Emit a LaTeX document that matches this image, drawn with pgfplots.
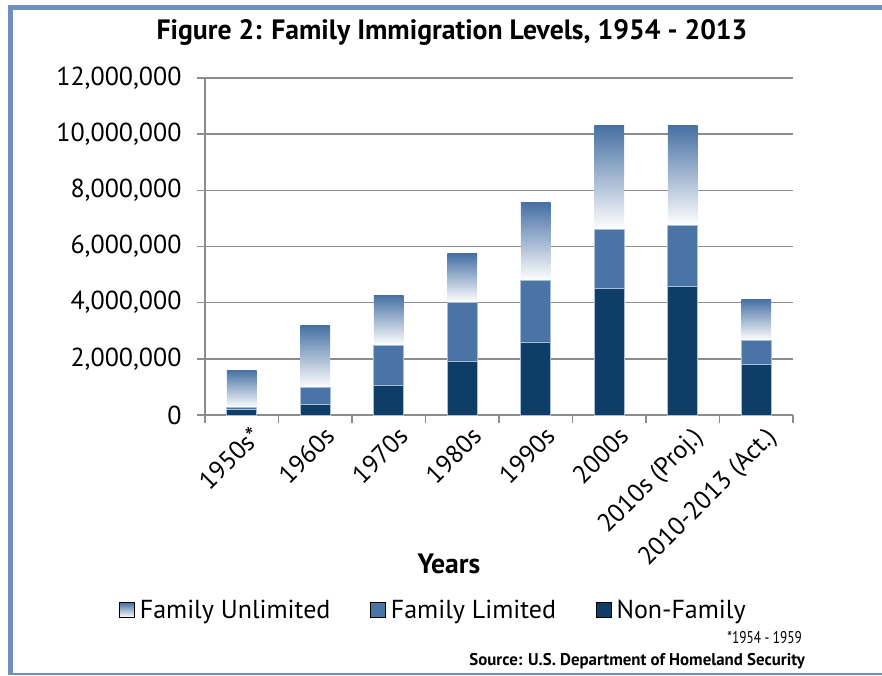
\documentclass[border=0pt]{standalone}
\usepackage{fontspec}
\setmainfont{PT Sans}
\newfontfamily\condfont{PT Sans}[FakeStretch=0.78]
\newfontfamily\titlefont{PT Sans}[FakeStretch=0.99]
\usepackage{pgfplots}
\usepgfplotslibrary{statistics}
\pgfplotsset{compat=1.18}
\definecolor{navy}{RGB}{14,61,104}
\definecolor{midblue}{RGB}{74,116,166}
\definecolor{topblue}{RGB}{70,112,163}
\definecolor{framec}{RGB}{112,143,191}
\definecolor{gridc}{RGB}{140,140,140}
\definecolor{edgec}{RGB}{170,190,215}
\pgfplotsset{
  unlim/.style={forget plot,
    boxplot/draw direction=y,
    boxplot/box extend=0.408,
    boxplot/every box/.style={draw=none, top color=topblue, bottom color=white},
    boxplot/every median/.style={draw=none},
    boxplot/every whisker/.style={draw=none},
    draw=none},
}
\begin{document}
\begin{tikzpicture}[x=1pt,y=1pt]
\path[use as bounding box] (0,0) rectangle (882,675);
% frame
\fill[framec] (8,1) rectangle (13,670);
\fill[framec] (8,665) rectangle (882,670);
\fill[framec] (8,0.5) rectangle (882,2);
% values in millions of immigrants
\begin{axis}[
  at={(205pt,260pt)}, anchor=south west,
  scale only axis, width=588pt, height=337pt,
  xmin=-0.5, xmax=7.5, ymin=0, ymax=12,
  axis x line*=bottom, axis y line*=left,
  axis line style={gridc, line width=1.6pt},
  ymajorgrids, grid style={gridc, line width=1.6pt},
  ytick={0,2,4,6,8,10,12},
  yticklabels={0,{2,000,000},{4,000,000},{6,000,000},{8,000,000},{10,000,000},{12,000,000}},
  yticklabel style={font=\fontsize{26}{26}\selectfont, xshift=-12pt},
  tick align=outside, major tick length=8pt,
  ytick style={gridc, line width=1.6pt},
  xtick={0,1,2,3,4,5,6,7},
  xticklabels={1950s*,1960s,1970s,1980s,1990s,2000s,2010s (Proj.),2010-2013 (Act.)},
  xtick style={draw=none},
  xticklabel style={font=\fontsize{25.5}{25.5}\selectfont, xshift=8pt, yshift=-2pt, rotate=45, anchor=north east, inner sep=0pt},
  extra x ticks={-0.5,0.5,1.5,2.5,3.5,4.5,5.5,6.5,7.5},
  extra x tick labels={,,,,,,,,},
  extra x tick style={xtick style={draw=gridc, line width=1.6pt}},
  legend columns=3,
  legend style={at={(0.387,-0.5786)}, anchor=center, draw=none, fill=none,
    font=\fontsize{26}{26}\selectfont, nodes={inner sep=0pt},
    /tikz/every odd column/.append style={column sep=5pt},
    /tikz/every even column/.append style={column sep=40pt}},
  legend image code/.code={\path[#1] (0pt,-7.5pt) rectangle (15pt,7.5pt);},
  clip=false,
]
\addlegendimage{top color=topblue, bottom color=white}
\addlegendentry{Family Unlimited}
\addlegendimage{fill=midblue}
\addlegendentry{Family Limited}
\addlegendimage{fill=navy}
\addlegendentry{Non-Family}
% Family Unlimited: from top of Family Limited up to the bar total
\addplot[unlim, boxplot prepared={draw position=0, lower whisker=0.26, lower quartile=0.26, median=0.26, upper quartile=1.60, upper whisker=1.60}] coordinates {};
\addplot[unlim, boxplot prepared={draw position=1, lower whisker=0.97, lower quartile=0.97, median=0.97, upper quartile=3.20, upper whisker=3.20}] coordinates {};
\addplot[unlim, boxplot prepared={draw position=2, lower whisker=2.49, lower quartile=2.49, median=2.49, upper quartile=4.27, upper whisker=4.27}] coordinates {};
\addplot[unlim, boxplot prepared={draw position=3, lower whisker=4.02, lower quartile=4.02, median=4.02, upper quartile=5.74, upper whisker=5.74}] coordinates {};
\addplot[unlim, boxplot prepared={draw position=4, lower whisker=4.79, lower quartile=4.79, median=4.79, upper quartile=7.56, upper whisker=7.56}] coordinates {};
\addplot[unlim, boxplot prepared={draw position=5, lower whisker=6.60, lower quartile=6.60, median=6.60, upper quartile=10.32, upper whisker=10.32}] coordinates {};
\addplot[unlim, boxplot prepared={draw position=6, lower whisker=6.75, lower quartile=6.75, median=6.75, upper quartile=10.32, upper whisker=10.32}] coordinates {};
\addplot[unlim, boxplot prepared={draw position=7, lower whisker=2.66, lower quartile=2.66, median=2.66, upper quartile=4.12, upper whisker=4.12}] coordinates {};
% Family Limited (cumulative top)
\addplot[ybar, bar width=30pt, bar shift=0pt, fill=midblue, draw=edgec, line width=0.8pt, forget plot] coordinates {
(0,0.26) (1,0.97) (2,2.49) (3,4.02) (4,4.79) (5,6.60) (6,6.75) (7,2.66)};
% Non-Family
\addplot[ybar, bar width=30pt, bar shift=0pt, fill=navy, draw=edgec, line width=0.8pt, forget plot] coordinates {
(0,0.20) (1,0.38) (2,1.06) (3,1.90) (4,2.60) (5,4.52) (6,4.59) (7,1.81)};
\end{axis}
\node[anchor=base] at (452,635) {\titlefont\bfseries\fontsize{28}{28}\selectfont Figure 2: Family Immigration Levels, 1954 - 2013};
\node[anchor=base] at (449,102) {\titlefont\bfseries\fontsize{28}{28}\selectfont Years};
\node[anchor=base east, inner sep=0pt] at (802,32) {\condfont\fontsize{17}{17}\selectfont *1954 - 1959};
\node[anchor=base east, inner sep=0pt] at (805,10) {\titlefont\bfseries\fontsize{17}{17}\selectfont Source: U.S. Department of Homeland Security};
\end{tikzpicture}
\end{document}
